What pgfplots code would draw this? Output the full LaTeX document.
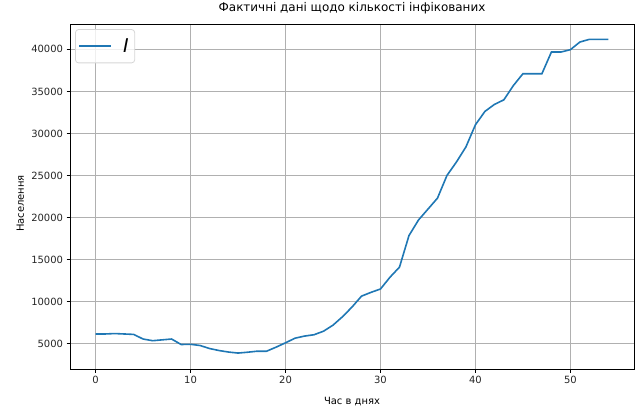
\documentclass[border=0pt]{standalone}
\usepackage{pgfplots}
\pgfplotsset{compat=1.18}
\usepackage{fontspec}
\setmainfont{DejaVu Sans}
\definecolor{tabblue}{HTML}{1F77B4}
\definecolor{gridgray}{HTML}{B0B0B0}
\definecolor{legendedge}{HTML}{D6D6D6}

\begin{document}
\begin{tikzpicture}
\path[use as bounding box] (0,0) rectangle (635bp,412bp);
\begin{axis}[
  at={(70bp,43bp)}, anchor=south west,
  scale only axis, width=564bp, height=345bp,
  xmin=-2.7, xmax=56.7, ymin=1985, ymax=43015,
  xtick={0,10,...,50}, ytick={5000,10000,...,40000},
  scaled y ticks=false,
  yticklabel style={/pgf/number format/1000 sep={}},
  /pgf/number format/assume math mode=true,
  tick label style={font=\fontsize{10}{12}\selectfont, text=black!85},
  grid=major, major grid style={gridgray, line width=0.8bp},
  axis line style={line width=0.8bp},
  tick style={black, line width=0.8bp},
  tick align=outside, major tick length=3.5bp,
  tick pos=left,
  title={Фактичні дані щодо кількості інфікованих},
  title style={font=\fontsize{12}{14}\selectfont, at={(axis description cs:0.5,1.0203)}, anchor=base, inner sep=0pt},
  xlabel={Час в днях}, ylabel={Населення},
  label style={font=\fontsize{10}{12}\selectfont},
  xlabel style={at={(axis description cs:0.5,-0.1043)}, anchor=base, inner sep=0pt},
  ylabel style={at={(axis description cs:-0.0816,0.48)}, anchor=base, inner sep=0pt},
  legend style={at={(axis description cs:0.009,0.985)}, anchor=north west,
    draw=legendedge, line width=0.8bp, rounded corners=3bp, fill=white, fill opacity=0.8, text opacity=1,
    font=\fontsize{19}{19}\selectfont, inner xsep=3bp, inner ysep=7bp,
    nodes={inner xsep=3bp, inner ysep=2bp},
    /tikz/every odd column/.append style={column sep=8bp}},
  legend image code/.code={\draw[#1, line width=1.6bp] (0bp,0bp) -- (32bp,0bp);},
]
\addplot[tabblue, line width=1.6bp] coordinates {
 (0,6150) (1,6150) (2,6200) (3,6150) (4,6100) (5,5550) (6,5350) (7,5450) (8,5550)
 (9,4900) (10,4920) (11,4780) (12,4420) (13,4180) (14,4000) (15,3880) (16,3980)
 (17,4100) (18,4100) (19,4580) (20,5100) (21,5650) (22,5900) (23,6060) (24,6480)
 (25,7200) (26,8200) (27,9350) (28,10650) (29,11100) (30,11500) (31,12900) (32,14100)
 (33,17850) (34,19700) (35,21000) (36,22300) (37,25000) (38,26600) (39,28400)
 (40,31030) (41,32620) (42,33450) (43,34000) (44,35700) (45,37100) (46,37100)
 (47,37100) (48,39680) (49,39680) (50,39960) (51,40870) (52,41190) (53,41190) (54,41190)
};
\addlegendentry{\textit{I}}
\end{axis}
\end{tikzpicture}
\end{document}
